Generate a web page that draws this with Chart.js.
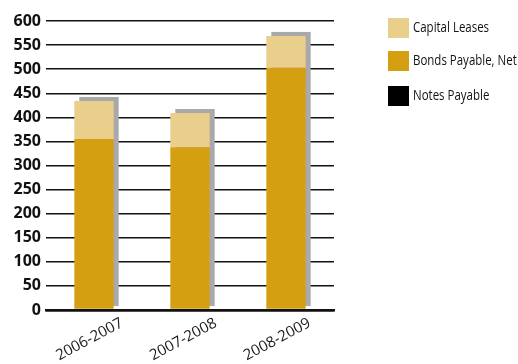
<!DOCTYPE html>
<html>
<head>
<meta charset="utf-8">
<script src="https://cdn.jsdelivr.net/npm/chart.js@4"></script>
<style>
html,body{margin:0;padding:0;background:#fff;}
#wrap{position:relative;width:518px;height:364px;}
</style>
</head>
<body>
<div id="wrap"><canvas id="c" width="518" height="364"></canvas></div>
<script>
const categories = ['2006-2007', '2007-2008', '2008-2009'];
const notesPayable = [0, 0, 0];
const bondsPayable = [355, 338, 503];
const capitalLeases = [79, 71, 66];
const yTicks = [0, 50, 100, 150, 200, 250, 300, 350, 400, 450, 500, 550, 600];

// gray drop shadow behind each stacked column, placed through the chart's scales
const shadowPlugin = {
  id: 'barShadow',
  beforeDatasetsDraw(chart) {
    const ctx = chart.ctx;
    const y = chart.scales.y;
    const topMeta = chart.getDatasetMeta(chart.data.datasets.length - 1);
    ctx.save();
    ctx.fillStyle = '#a9a9ac';
    categories.forEach((c, i) => {
      const el = topMeta.data[i];
      const total = notesPayable[i] + bondsPayable[i] + capitalLeases[i];
      const yTop = y.getPixelForValue(total);
      const yBase = y.getPixelForValue(0);
      ctx.fillRect(el.x - el.width / 2 + 5, yTop - 4, el.width, yBase - yTop);
    });
    ctx.restore();
  }
};

// rotated category labels placed at the x scale's tick positions
const xLabelPlugin = {
  id: 'xLabels',
  afterDraw(chart) {
    const ctx = chart.ctx;
    const xs = chart.scales.x;
    ctx.save();
    ctx.fillStyle = '#1a1a1a';
    ctx.font = "15px 'Open Sans', sans-serif";
    ctx.textAlign = 'right';
    ctx.textBaseline = 'alphabetic';
    xs.ticks.forEach((t, i) => {
      const px = xs.getPixelForTick(i);
      ctx.save();
      ctx.translate(px + 30 - i * 2.2, xs.top + 16);
      ctx.rotate(-28 * Math.PI / 180);
      ctx.fillText(xs.getLabelForValue(t.value), 0, 0);
      ctx.restore();
    });
    ctx.restore();
  }
};

const legendPlugin = {
  id: 'sideLegend',
  afterDraw(chart) {
    const ctx = chart.ctx;
    const ds = chart.data.datasets.slice().reverse();
    const tops = [18, 51, 86];
    ctx.save();
    ds.forEach((d, i) => {
      ctx.fillStyle = d.backgroundColor;
      ctx.fillRect(388, tops[i], 21, 20);
      ctx.save();
      ctx.translate(413, tops[i] + 10.5);
      ctx.scale(0.82, 1);
      ctx.fillStyle = '#111';
      ctx.font = "14px 'Open Sans', sans-serif";
      ctx.textBaseline = 'middle';
      ctx.textAlign = 'left';
      ctx.fillText(d.label, 0, 0);
      ctx.restore();
    });
    ctx.restore();
  }
};

new Chart(document.getElementById('c'), {
  type: 'bar',
  data: {
    labels: categories,
    datasets: [
      { label: 'Notes Payable', data: notesPayable, backgroundColor: '#000000' },
      { label: 'Bonds Payable, Net', data: bondsPayable, backgroundColor: '#d4a012' },
      { label: 'Capital Leases', data: capitalLeases, backgroundColor: '#e9cf8b' }
    ]
  },
  options: {
    responsive: false,
    animation: false,
    devicePixelRatio: 1,
    layout: { padding: { top: 21, right: 184, left: 0, bottom: 0 } },
    datasets: { bar: { categoryPercentage: 1, barPercentage: 0.41, borderWidth: 0 } },
    plugins: { legend: { display: false }, tooltip: { enabled: false } },
    scales: {
      x: {
        stacked: true,
        grid: { display: false, drawTicks: false },
        border: { display: true, color: '#111', width: 2.5 },
        afterFit(s) { s.height = 54; },
        ticks: { display: false }
      },
      y: {
        stacked: true,
        min: 0, max: 600,
        afterFit(s) { s.width = 46; },
        afterBuildTicks(s) { s.ticks = yTicks.map(v => ({ value: v })); },
        grid: {
          drawTicks: false,
          color: '#111',
          lineWidth: (c) => (c.tick && c.tick.value === 0 ? 2.5 : 1.5)
        },
        border: { display: false },
        ticks: {
          padding: 5,
          color: '#111',
          font: { family: "'Open Sans', sans-serif", size: 16, weight: 'bold' }
        }
      }
    }
  },
  plugins: [shadowPlugin, xLabelPlugin, legendPlugin]
});
</script>
</body>
</html>
